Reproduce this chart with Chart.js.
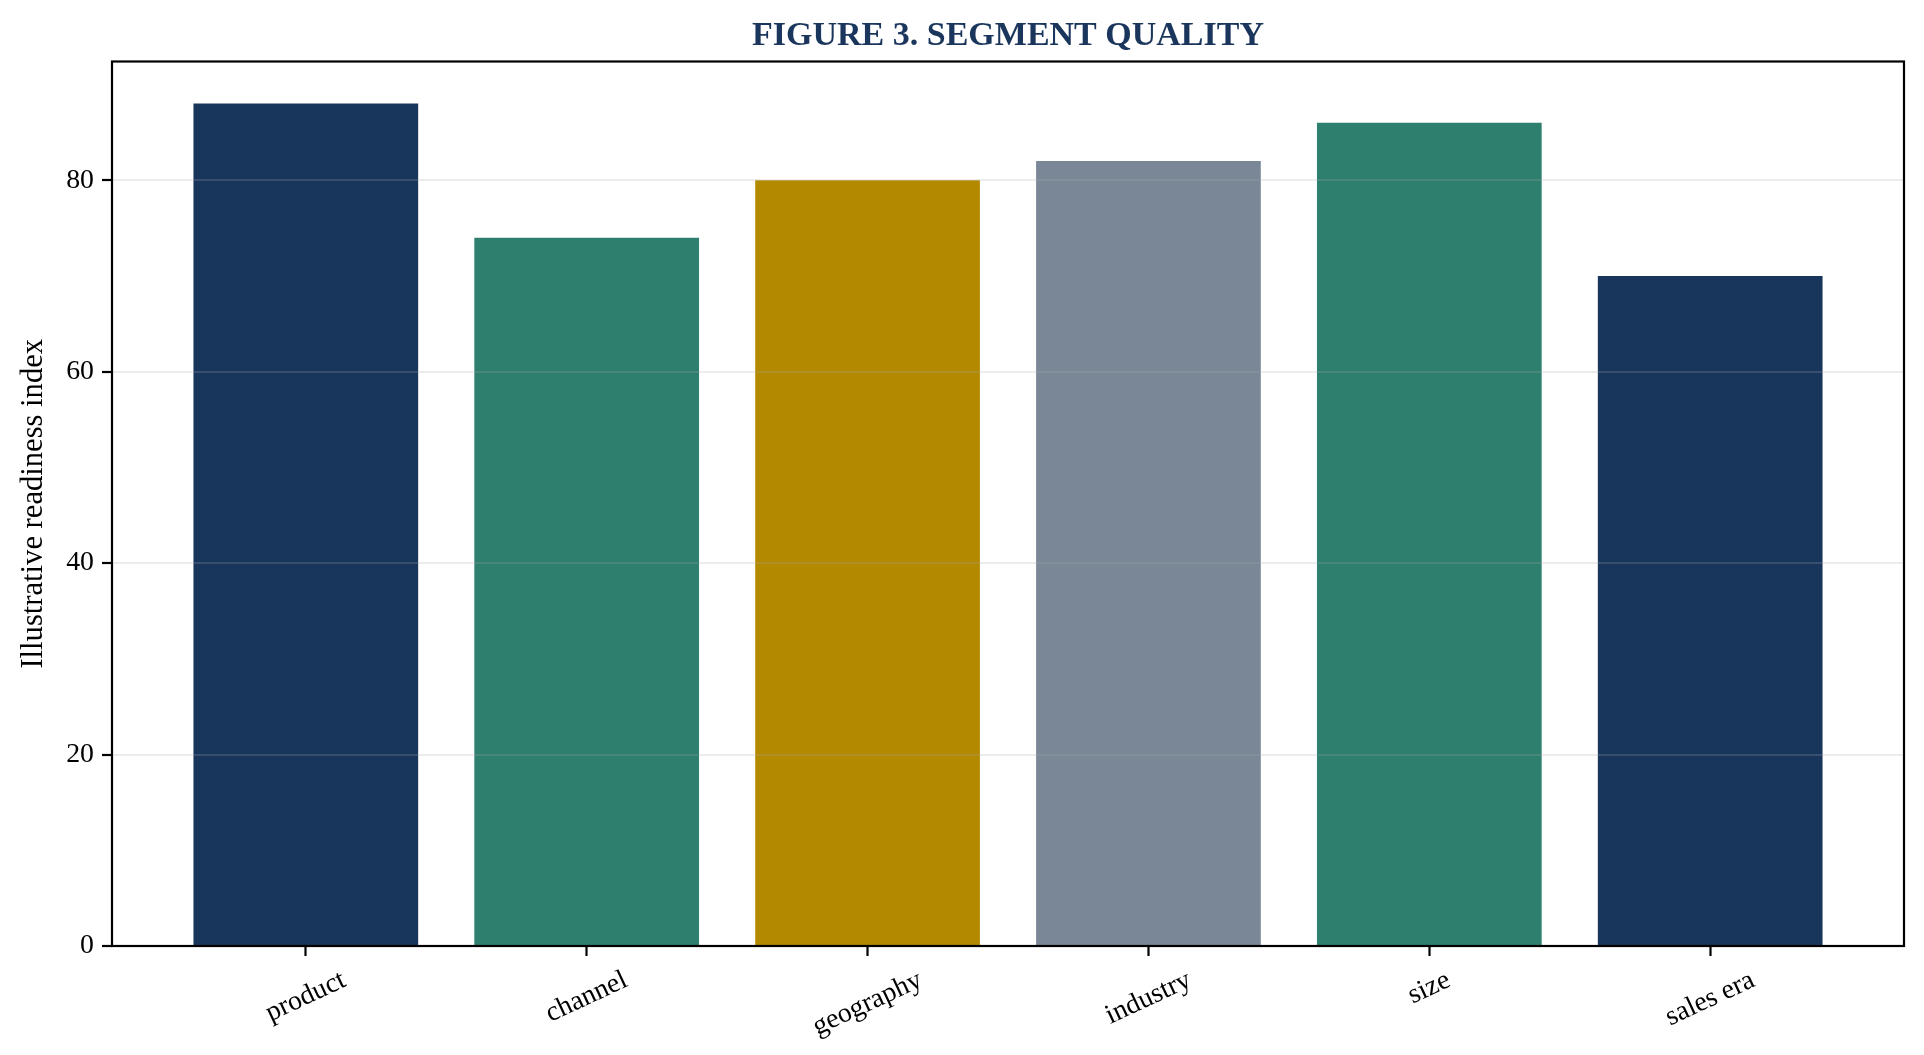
<!DOCTYPE html>
<html><head><meta charset="utf-8">
<script src="https://cdn.jsdelivr.net/npm/chart.js@4.4.1/dist/chart.umd.min.js"></script>
<style>html,body{margin:0;padding:0;background:#fff;}#wrap{width:1924px;height:1055px;position:relative;}</style>
</head><body><div id="wrap"><canvas id="c"></canvas></div>
<script>
const categories = ['product', 'channel', 'geography', 'industry', 'size', 'sales era'];
const readiness = [88, 74, 80, 82, 86, 70];
const barColors = ['#18365c', '#2e7f6e', '#b38900', '#7a8796', '#2e7f6e', '#18365c'];
const yTicks = [0, 20, 40, 60, 80];
const xLimits = [-0.69, 5.69];
const yLimits = [0, 92.4];
const titleText = 'FIGURE 3. SEGMENT QUALITY';
const yTitle = 'Illustrative readiness index';

const FONT = "'Liberation Serif','Times New Roman',serif";
const TICK_FS = 27.8, LABEL_FS = 30.6, TITLE_FS = 34;

const framePlugin = {
  id: 'frame',
  afterDraw(chart) {
    const a = chart.chartArea, ctx = chart.ctx;
    ctx.save();
    ctx.strokeStyle = '#000';
    ctx.lineWidth = 2.2;
    ctx.strokeRect(a.left, a.top, a.right - a.left, a.bottom - a.top);
    ctx.restore();
  }
};

const axesTitlePlugin = {
  id: 'axesTitle',
  afterDraw(chart) {
    const a = chart.chartArea, ctx = chart.ctx;
    ctx.save();
    ctx.font = 'bold ' + TITLE_FS + 'px ' + FONT;
    ctx.fillStyle = '#1b365d';
    ctx.textAlign = 'center';
    ctx.textBaseline = 'alphabetic';
    ctx.fillText(titleText, (a.left + a.right) / 2, a.top - 16.7);
    ctx.restore();
  }
};

const xLabelPlugin = {
  id: 'xlabels',
  afterDraw(chart) {
    const s = chart.scales.x, ctx = chart.ctx;
    const ang = 25 * Math.PI / 180;
    ctx.save();
    ctx.font = TICK_FS + 'px ' + FONT;
    ctx.fillStyle = '#000';
    ctx.textAlign = 'center';
    ctx.textBaseline = 'middle';
    categories.forEach((lab, i) => {
      const x = s.getPixelForValue(i);
      const w = ctx.measureText(lab).width, h = TICK_FS * 1.05;
      const bh = w * Math.sin(ang) + h * Math.cos(ang);
      const top = chart.chartArea.bottom + 10 + 9.7;
      ctx.save();
      ctx.translate(x, top + bh / 2);
      ctx.rotate(-ang);
      ctx.fillText(lab, 0, 0);
      ctx.restore();
    });
    ctx.restore();
  }
};

new Chart(document.getElementById('c'), {
  type: 'bar',
  data: {
    datasets: [{
      data: readiness.map((v, i) => ({ x: i, y: v })),
      backgroundColor: barColors,
      borderWidth: 0,
      barPercentage: 0.8,
      categoryPercentage: 1.0
    }]
  },
  options: {
    responsive: true,
    maintainAspectRatio: false,
    animation: false,
    layout: { padding: { left: 16, right: 20, top: 61.5, bottom: 0 } },
    plugins: {
      legend: { display: false },
      tooltip: { enabled: false },
      title: { display: false }
    },
    scales: {
      x: {
        type: 'linear',
        min: xLimits[0],
        max: xLimits[1],
        offset: false,
        afterBuildTicks: s => { s.ticks = categories.map((_, i) => ({ value: i })); },
        afterFit: s => { s.height = 109; },
        ticks: { display: false },
        grid: {
          offset: false,
          drawOnChartArea: false,
          drawTicks: true,
          tickLength: 10,
          tickColor: '#000',
          tickWidth: 2.2,
          color: '#000'
        },
        border: { display: false }
      },
      y: {
        min: yLimits[0],
        max: yLimits[1],
        afterBuildTicks: s => { s.ticks = yTicks.map(v => ({ value: v })); },
        afterFit: s => { s.width = 96; },
        ticks: {
          color: '#000',
          font: { family: FONT, size: TICK_FS },
          padding: 8
        },
        grid: {
          z: 1,
          color: 'rgba(168,168,168,0.22)',
          lineWidth: 2,
          drawTicks: true,
          tickLength: 10,
          tickColor: '#000',
          tickWidth: 2.2
        },
        border: { display: false },
        title: {
          display: true,
          text: yTitle,
          color: '#000',
          font: { family: FONT, size: LABEL_FS },
          padding: { top: 0, bottom: 0 }
        }
      }
    }
  },
  plugins: [framePlugin, axesTitlePlugin, xLabelPlugin]
});
</script>
</body></html>
